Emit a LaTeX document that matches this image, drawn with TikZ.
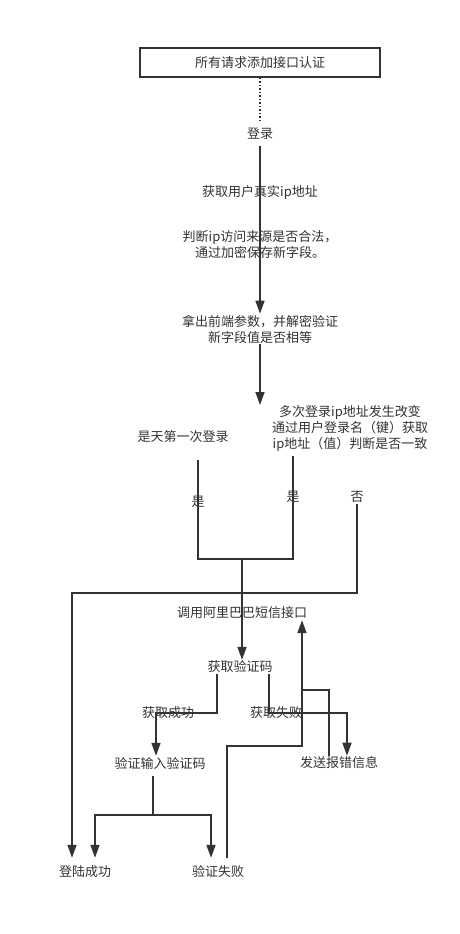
\documentclass[tikz,border=0pt]{standalone}
\usepackage{fontspec}
\setmainfont{Noto Sans CJK SC}
\usetikzlibrary{arrows.meta,positioning}
\definecolor{inkgray}{RGB}{51,51,51}

\begin{document}
\begin{tikzpicture}[
    x=1pt,y=-1pt,
    txt/.style={inner sep=1pt,text=inkgray,font=\fontsize{13}{16}\selectfont,align=center},
    headbox/.style={txt,draw=inkgray,line width=1.8pt,minimum width=240pt,minimum height=29pt},
    link/.style={draw=inkgray,line width=1.6pt},
    arrow/.style={link,-{Triangle[length=13pt,width=9pt]}}
]
\fill[white] (0,0) rectangle (460,934);
\useasboundingbox (0,0) rectangle (460,934);
\node[headbox] (auth) at (260,62.5) {所有请求添加接口认证};
\node[txt] (login) at (260,134) {登录};
\node[txt] (realip) at (260,192) {获取用户真实ip地址};
\node[txt] (legal) at (260,245) {判断ip访问来源是否合法，\\通过加密保存新字段。};
\node[txt] (decrypt) at (260,329) {拿出前端参数，并解密验证\\新字段值是否相等};
\node[txt] (first) at (183,437) {是天第一次登录};
\node[txt] (multi) at (350,428) {多次登录ip地址发生改变\\通过用户登录名（键）获取\\ip地址（值）判断是否一致};
\node[txt] (yes1) at (198,502) {是};
\node[txt] (yes2) at (293,497) {是};
\node[txt] (no) at (357,497) {否};
\node[txt] (sms) at (242,613) {调用阿里巴巴短信接口};
\node[txt] (getcode) at (240,667) {获取验证码};
\node[txt] (okget) at (168,713) {获取成功};
\node[txt] (failget) at (276,713) {获取失败};
\node[txt] (verify) at (160,763) {验证输入验证码};
\node[txt] (senderr) at (339,763) {发送报错信息};
\node[txt] (success) at (85,872) {登陆成功};
\node[txt] (vfail) at (218,872) {验证失败};
% junctions and free ends
\coordinate (split) at (260,405);
\coordinate (firstout) at (198,460);
\coordinate (multiout) at (293,456);
\coordinate (merge) at (242,559);
\coordinate (lowrow) at (0,593);
\coordinate (retry) at (302,690);
\coordinate (back) at (302,746);
\coordinate (fork) at (153,815);
\coordinate (verifyin) at ([xshift=-4pt]verify.north);
\coordinate (errin) at ([xshift=8pt]senderr.north);
\draw[link,line width=1.5pt,dash pattern=on 1.5pt off 2pt,shorten >=5pt] (auth) -- (login);
\draw[arrow,shorten <=5pt] (login) -- (decrypt);
\draw[arrow] (decrypt) -- (split);
\draw[link] (firstout) -- (firstout |- merge) -- (merge);
\draw[link] (multiout) |- (merge);
\draw[arrow] (merge) -- (merge |- getcode.north);
\draw[arrow,shorten >=7pt] (no) -- (no |- lowrow) -| ([xshift=-13pt]success.north);
\draw[arrow] ([xshift=-23pt]getcode.south) |- (verifyin |- okget) -- (verifyin);
\draw[arrow] ([xshift=29pt]getcode.south) |- (errin |- failget) -- (errin);
\draw[arrow] ([xshift=-10pt]senderr.north) |- (retry) -- (retry |- sms.south);
\draw[link,shorten <=7pt] ([xshift=9pt]vfail.north) |- (back) -- (retry);
\draw[link,shorten <=6pt] ([xshift=-7pt]verify.south) -- (fork);
\draw[arrow,shorten >=7pt] (fork) -| ([xshift=10pt]success.north);
\draw[arrow,shorten >=7pt] (fork) -| ([xshift=-7pt]vfail.north);
\end{tikzpicture}
\end{document}
